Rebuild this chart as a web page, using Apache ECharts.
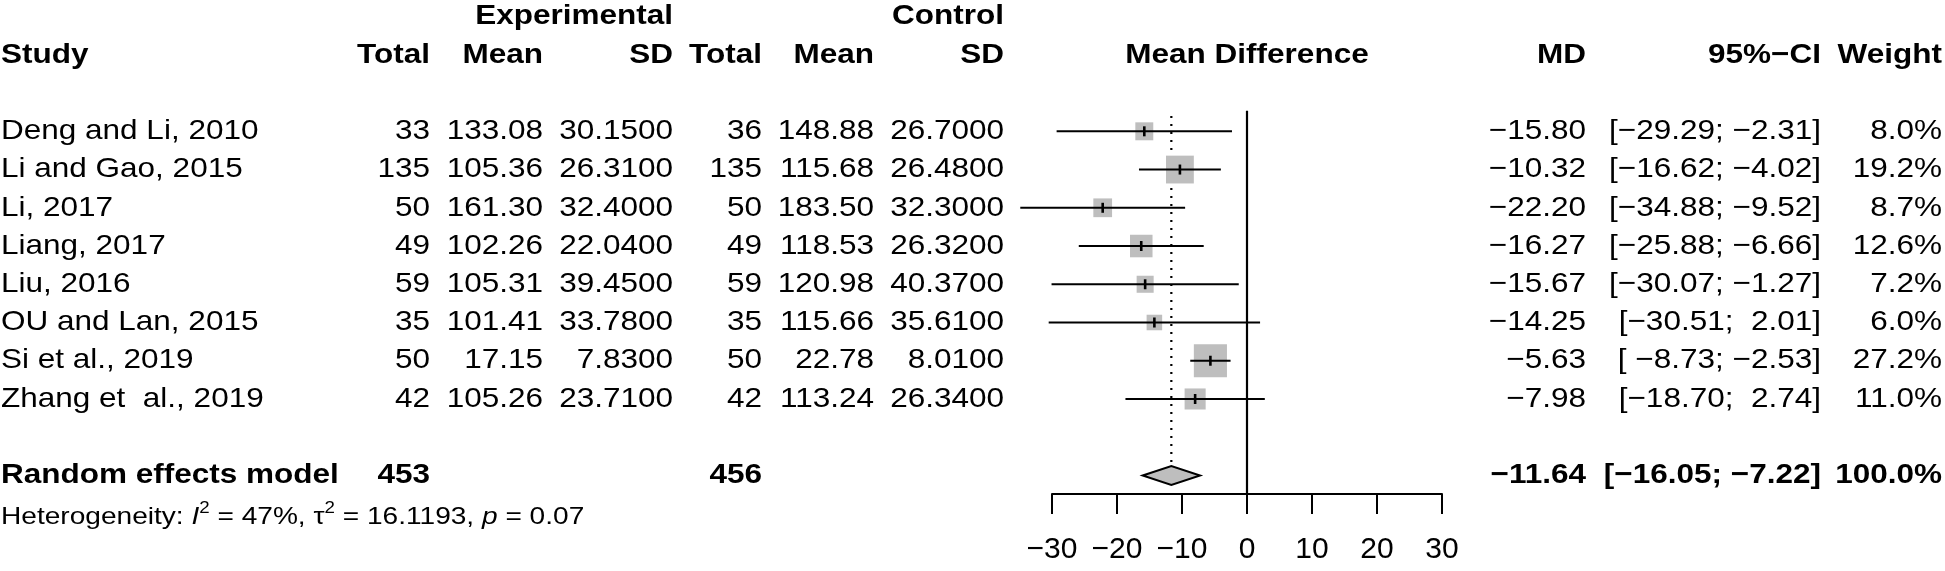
<!DOCTYPE html>
<html><head><meta charset="utf-8">
<script src="https://cdn.jsdelivr.net/npm/echarts@6/dist/echarts.min.js"></script>
<style>html,body{margin:0;padding:0;background:#fff}#c{width:1945px;height:571px}</style>
</head><body><div id="c"></div>
<script>
// ---------------- data ----------------
const studies   = ["Deng and Li, 2010","Li and Gao, 2015","Li, 2017","Liang, 2017","Liu, 2016","OU and Lan, 2015","Si et al., 2019","Zhang et  al., 2019"];
const expTotal  = [33, 135, 50, 49, 59, 35, 50, 42];
const expMean   = [133.08, 105.36, 161.30, 102.26, 105.31, 101.41, 17.15, 105.26];
const expSD     = [30.15, 26.31, 32.40, 22.04, 39.45, 33.78, 7.83, 23.71];
const ctrlTotal = [36, 135, 50, 49, 59, 35, 50, 42];
const ctrlMean  = [148.88, 115.68, 183.50, 118.53, 120.98, 115.66, 22.78, 113.24];
const ctrlSD    = [26.70, 26.48, 32.30, 26.32, 40.37, 35.61, 8.01, 26.34];
const md        = [-15.80, -10.32, -22.20, -16.27, -15.67, -14.25, -5.63, -7.98];
const ciLower   = [-29.29, -16.62, -34.88, -25.88, -30.07, -30.51, -8.73, -18.70];
const ciUpper   = [-2.31, -4.02, -9.52, -6.66, -1.27, 2.01, -2.53, 2.74];
const weight    = [8.0, 19.2, 8.7, 12.6, 7.2, 6.0, 27.2, 11.0];
const summaryLabel = "Random effects model";
const summaryExpTotal = 453;
const summaryCtrlTotal = 456;
const summaryMD = -11.64;
const summaryLower = -16.05;
const summaryUpper = -7.22;
const summaryWeight = 100.0;
const xTicks = [-30, -20, -10, 0, 10, 20, 30];

// ---------------- layout / style ----------------
const FONT = "'Liberation Sans', Arial, Helvetica, sans-serif";
const FS = 28, SX = 1.125;
const COL = {eT:430, eM:543, eSD:673, cT:762, cM:874, cSD:1004, md:1586, ci:1821, w:1942};
const ROW_HDR1 = -3, ROW_HDR2 = -2, ROW_SUM = 9, ROW_HET = 10.1;
const Y_MIN = -3.434, Y_MAX = 9.485;
const SQ = 6.35;

const minus = s => s.replace(/-/g, '\u2212');
const fx = (v, d) => minus(v.toFixed(d));
const loStr = ciLower.map(v => v.toFixed(2));
const upStr = ciUpper.map(v => v.toFixed(2));
const loW = Math.max(...loStr.map(s => s.length)), upW = Math.max(...upStr.map(s => s.length));
const ciText = (lo, up) => minus('[' + lo.padStart(loW, ' ') + '; ' + up.padStart(upW, ' ') + ']');

const cells = [];
function cell(row, x, text, align, bold, extra) {
  cells.push(Object.assign({row, x, text, align, bold}, extra || {}));
}
cell(ROW_HDR1, COL.eSD, 'Experimental', 'right', true);
cell(ROW_HDR1, COL.cSD, 'Control', 'right', true);
cell(ROW_HDR2, 1, 'Study', 'left', true);
cell(ROW_HDR2, COL.eT, 'Total', 'right', true);
cell(ROW_HDR2, COL.eM, 'Mean', 'right', true);
cell(ROW_HDR2, COL.eSD, 'SD', 'right', true);
cell(ROW_HDR2, COL.cT, 'Total', 'right', true);
cell(ROW_HDR2, COL.cM, 'Mean', 'right', true);
cell(ROW_HDR2, COL.cSD, 'SD', 'right', true);
cell(ROW_HDR2, 'plot', 'Mean Difference', 'center', true);
cell(ROW_HDR2, COL.md, 'MD', 'right', true);
cell(ROW_HDR2, COL.ci, '95%\u2212CI', 'right', true);
cell(ROW_HDR2, COL.w, 'Weight', 'right', true);
studies.forEach((s, i) => {
  cell(i, 1, s, 'left', false);
  cell(i, COL.eT, String(expTotal[i]), 'right', false);
  cell(i, COL.eM, expMean[i].toFixed(2), 'right', false);
  cell(i, COL.eSD, expSD[i].toFixed(4), 'right', false);
  cell(i, COL.cT, String(ctrlTotal[i]), 'right', false);
  cell(i, COL.cM, ctrlMean[i].toFixed(2), 'right', false);
  cell(i, COL.cSD, ctrlSD[i].toFixed(4), 'right', false);
  cell(i, COL.md, fx(md[i], 2), 'right', false);
  cell(i, COL.ci, ciText(loStr[i], upStr[i]), 'right', false);
  cell(i, COL.w, weight[i].toFixed(1) + '%', 'right', false);
});
cell(ROW_SUM, 1, summaryLabel, 'left', true);
cell(ROW_SUM, COL.eT, String(summaryExpTotal), 'right', true);
cell(ROW_SUM, COL.cT, String(summaryCtrlTotal), 'right', true);
cell(ROW_SUM, COL.md, fx(summaryMD, 2), 'right', true);
cell(ROW_SUM, COL.ci, minus('[' + summaryLower.toFixed(2) + '; ' + summaryUpper.toFixed(2) + ']'), 'right', true);
cell(ROW_SUM, COL.w, summaryWeight.toFixed(1) + '%', 'right', true);
cell(ROW_HET, 1, '{n|Heterogeneity: }{it|I}{sup|2}{n| = 47%, \u03C4}{sup|2}{n| = 16.1193, }{it|p}{n| = 0.07}', 'left', false,
  {rich: true, sx: 1.17});

const RICH = {
  n:   {fontSize: 24, fontFamily: FONT, lineHeight: 34, verticalAlign: 'middle', fill: '#000', color: '#000'},
  it:  {fontSize: 24, fontFamily: FONT, fontStyle: 'italic', lineHeight: 34, verticalAlign: 'middle', fill: '#000', color: '#000'},
  sup: {fontSize: 16, fontFamily: FONT, lineHeight: 16, verticalAlign: 'top', fill: '#000', color: '#000'}
};

function renderText(params, api) {
  const c = cells[params.dataIndex];
  const p = api.coord([0, c.row]);
  const x = c.x === 'plot' ? p[0] : c.x;
  const style = {
    text: c.text, x: 0, y: 0,
    align: c.align, textAlign: c.align,
    verticalAlign: 'middle', textVerticalAlign: 'middle',
    fontSize: FS, fontFamily: FONT, fontWeight: c.bold ? 'bold' : 'normal',
    fill: '#000'
  };
  if (c.rich) { style.rich = RICH; style.fontSize = 24; style.lineHeight = 34; }
  return {type: 'text', x: x, y: p[1], scaleX: c.sx || SX, scaleY: 1, style: style};
}

function renderStudy(params, api) {
  const r = api.value(1);
  const c = api.coord([api.value(0), r]);
  const l = api.coord([api.value(2), r]);
  const h = api.coord([api.value(3), r]);
  const s = SQ * Math.sqrt(api.value(4));
  return {type: 'group', children: [
    {type: 'rect', shape: {x: c[0] - s / 2, y: c[1] - s / 2, width: s, height: s}, style: {fill: '#bebebe'}},
    {type: 'line', shape: {x1: l[0], y1: l[1], x2: h[0], y2: h[1]}, style: {stroke: '#000', lineWidth: 2}},
    {type: 'line', shape: {x1: c[0], y1: c[1] - 5, x2: c[0], y2: c[1] + 5}, style: {stroke: '#000', lineWidth: 2.6}}
  ]};
}

function renderRefs(params, api) {
  const est = api.value(0), r = api.value(1);
  const n1 = api.coord([0, -0.54]), n2 = api.coord([0, Y_MAX]);
  const d1 = api.coord([est, -0.4]), d2 = api.coord([est, r]);
  return {type: 'group', children: [
    {type: 'line', shape: {x1: d1[0], y1: d1[1], x2: d2[0], y2: d2[1] - 9.5},
     style: {stroke: '#000', lineWidth: 2.2, lineDash: [2, 6]}},
    {type: 'line', shape: {x1: n1[0], y1: n1[1], x2: n2[0], y2: n2[1]}, style: {stroke: '#000', lineWidth: 2.2}}
  ]};
}

function renderDiamond(params, api) {
  const r = api.value(1);
  const c = api.coord([api.value(0), r]);
  const l = api.coord([api.value(2), r]);
  const h = api.coord([api.value(3), r]);
  return {type: 'polygon', shape: {points: [[l[0], l[1]], [c[0], c[1] - 9.5], [h[0], h[1]], [c[0], c[1] + 9.5]]},
    style: {fill: '#bebebe', stroke: '#000', lineWidth: 2}};
}

const chart = echarts.init(document.getElementById('c'), null, {renderer: 'canvas'});
chart.setOption({
  animation: false,
  backgroundColor: '#fff',
  grid: {left: 1052, width: 390, top: 0, height: 494, containLabel: false},
  xAxis: {
    type: 'value', min: xTicks[0], max: xTicks[xTicks.length - 1], interval: xTicks[1] - xTicks[0],
    position: 'bottom',
    axisLine: {show: true, onZero: false, lineStyle: {color: '#000', width: 2}},
    axisTick: {show: true, length: 20, lineStyle: {color: '#000', width: 2}},
    axisLabel: {fontSize: 30, color: '#000', fontFamily: FONT, margin: 41,
      formatter: v => minus(String(v))},
    splitLine: {show: false}
  },
  yAxis: {type: 'value', inverse: true, min: Y_MIN, max: Y_MAX, show: false},
  series: [
    {type: 'custom', renderItem: renderRefs, data: [[summaryMD, ROW_SUM]], clip: false, silent: true, z: 1},
    {type: 'custom', renderItem: renderStudy, clip: false, silent: true, z: 2,
      data: studies.map((s, i) => [md[i], i, ciLower[i], ciUpper[i], weight[i]])},
    {type: 'custom', renderItem: renderDiamond, clip: false, silent: true, z: 3,
      data: [[summaryMD, ROW_SUM, summaryLower, summaryUpper]]},
    {type: 'custom', renderItem: renderText, clip: false, silent: true, z: 4,
      data: cells.map(c => [0, c.row])}
  ]
});
</script></body></html>
